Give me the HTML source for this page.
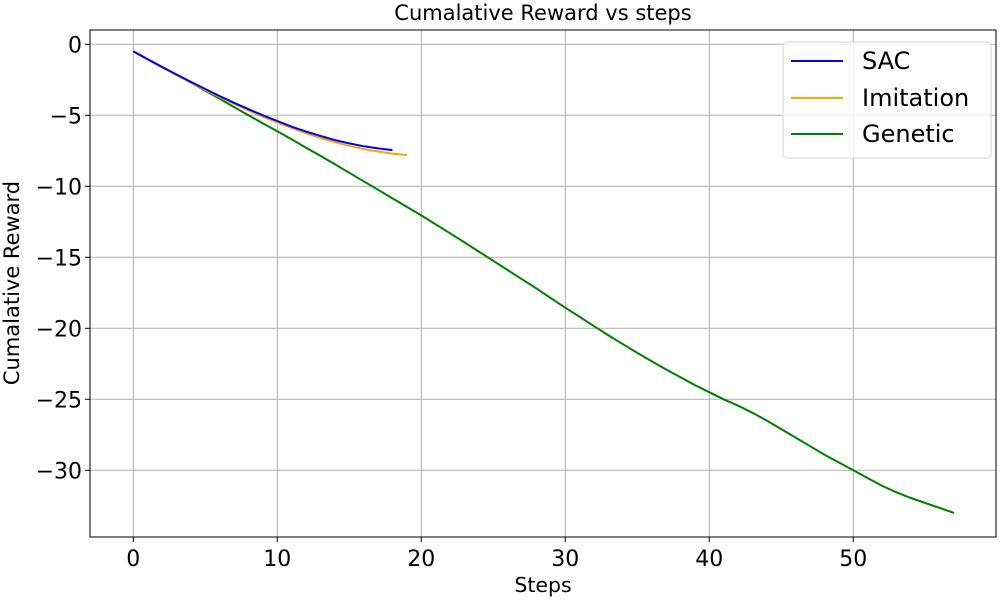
<!DOCTYPE html>
<html><head><meta charset="utf-8"><style>body{margin:0;background:#fff}svg{display:block;font-family:"DejaVu Sans","Liberation Sans",sans-serif}</style></head>
<body>
<svg id="chart" width="1000" height="600"></svg>
<script>
const xTicks=[0,10,20,30,40,50];
const yTicks=[0,-5,-10,-15,-20,-25,-30];
const xTickLabels=["0","10","20","30","40","50"];
const yTickLabels=["0","\u22125","\u221210","\u221215","\u221220","\u221225","\u221230"];
const sacValues=[-0.5,-1.05,-1.6,-2.13,-2.65,-3.15,-3.65,-4.12,-4.57,-5.0,-5.4,-5.8,-6.15,-6.45,-6.75,-6.98,-7.18,-7.33,-7.45];
const imitationValues=[-0.5,-1.07,-1.63,-2.17,-2.7,-3.22,-3.72,-4.2,-4.66,-5.1,-5.5,-5.9,-6.27,-6.6,-6.9,-7.15,-7.38,-7.55,-7.7,-7.8];
const geneticValues=[-0.5,-1.05,-1.6,-2.15,-2.7,-3.27,-3.84,-4.42,-5.0,-5.57,-6.13,-6.7,-7.28,-7.86,-8.45,-9.05,-9.65,-10.25,-10.85,-11.45,-12.05,-12.68,-13.31,-13.95,-14.6,-15.25,-15.9,-16.55,-17.2,-17.88,-18.55,-19.2,-19.85,-20.5,-21.12,-21.73,-22.32,-22.9,-23.45,-24.0,-24.5,-25.0,-25.45,-25.95,-26.5,-27.1,-27.7,-28.3,-28.9,-29.45,-30.0,-30.55,-31.1,-31.55,-31.95,-32.3,-32.65,-33.0];
const NS='http://www.w3.org/2000/svg';
const svg=document.getElementById('chart');
const L=90,R=996,T=30,B=537;
const sx=v=>133.3+v*14.4;
const sy=v=>44.3-v*14.2;
function mk(t,a,p){const e=document.createElementNS(NS,t);for(const k in a)e.setAttribute(k,a[k]);(p||svg).appendChild(e);return e;}
let e;
xTicks.forEach((v,i)=>{
 e=mk('line',{x1:sx(v),x2:sx(v),y1:T,y2:B,stroke:'#b0b0b0','stroke-width':1});
 
 mk('line',{x1:sx(v),x2:sx(v),y1:B,y2:B+5,stroke:'#000'});
 e=mk('text',{x:sx(v),y:B+29,'text-anchor':'middle','font-size':22});e.textContent=xTickLabels[i];
 
});
yTicks.forEach((v,i)=>{
 e=mk('line',{x1:L,x2:R,y1:sy(v),y2:sy(v),stroke:'#b0b0b0','stroke-width':1});
 
 mk('line',{x1:L-5,x2:L,y1:sy(v),y2:sy(v),stroke:'#000'});
 e=mk('text',{x:L-8,y:sy(v)+8,'text-anchor':'end','font-size':22});e.textContent=yTickLabels[i];
 
});
function series(vals,color,name){
 const d=vals.map((v,i)=>(i?'L':'M')+sx(i).toFixed(1)+','+sy(v).toFixed(1)).join('');
 const p=mk('path',{d:d,fill:'none',stroke:color,'stroke-width':2});
 
}
series(geneticValues,'#008000','genetic-line');
series(imitationValues,'#ffa500','imitation-line');
series(sacValues,'#0000ff','sac-line');
e=mk('rect',{x:L,y:T,width:R-L,height:B-T,fill:'none',stroke:'#000','stroke-width':1});

e=mk('text',{x:543,y:20,'text-anchor':'middle','font-size':21});e.textContent='Cumalative Reward vs steps';

e=mk('text',{x:543,y:592,'text-anchor':'middle','font-size':20.5});e.textContent='Steps';

e=mk('text',{x:0,y:0,'text-anchor':'middle','font-size':21,transform:'translate(19,283) rotate(-90)'});e.textContent='Cumalative Reward';

const g=mk('g',{});
mk('rect',{x:783,y:42,width:208,height:116,rx:4,fill:'#fff','fill-opacity':0.8,stroke:'#d5d5d5'},g);
[['SAC','#0000ff',61],['Imitation','#ffa500',98],['Genetic','#008000',134]].forEach(([n,c,y])=>{
 const eg=mk('g',{},g);
 mk('line',{x1:791,x2:843,y1:y,y2:y,stroke:c,'stroke-width':2},eg);
 const t=mk('text',{x:862,y:y+8,'font-size':24},eg);t.textContent=n;
});
</script>
</body></html>
